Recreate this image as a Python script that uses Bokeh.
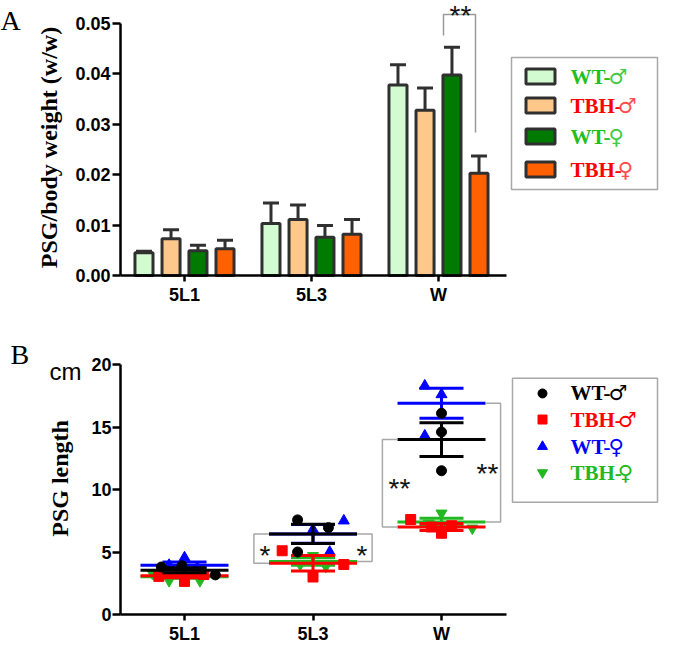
import math
from bokeh.plotting import figure
from bokeh.layouts import column
from bokeh.models import Range1d, FixedTicker, ColumnDataSource, NumeralTickFormatter
from bokeh.core.properties import value
from bokeh.embed import file_html
from bokeh.resources import INLINE

SERIF = "Liberation Serif"
SANS = "Liberation Sans"
SYM = "DejaVu Sans"

# ------------------------------------------------------------------ data
categories = ["5L1", "5L3", "W"]
series_prefix = ["WT-", "TBH-", "WT-", "TBH-"]
series_sex = ["\u2642", "\u2642", "\u2640", "\u2640"]

# Panel A: PSG / body weight (mean and SEM) per stage
ratio_wt_m = [0.0045, 0.0103, 0.0378]
ratio_wt_m_sem = [0.0003, 0.0041, 0.0040]
ratio_tbh_m = [0.0073, 0.0111, 0.0328]
ratio_tbh_m_sem = [0.0018, 0.0029, 0.0044]
ratio_wt_f = [0.0049, 0.0076, 0.0398]
ratio_wt_f_sem = [0.0011, 0.0023, 0.0055]
ratio_tbh_f = [0.0053, 0.0082, 0.0203]
ratio_tbh_f_sem = [0.0017, 0.0029, 0.0034]
ratio_ticks = [0.0, 0.01, 0.02, 0.03, 0.04, 0.05]

# Panel B: PSG length (cm), individual animals + mean and SEM per stage
len_wt_m = [[3.80, 3.90, 3.17], [7.57, 6.95, 5.00], [16.1, 14.6, 11.5]]
jit_wt_m = [[-0.18, -0.02, 0.24], [-0.12, 0.12, -0.12], [0.0, 0.0, 0.0]]
mean_wt_m = [3.55, 6.45, 14.0]
sem_wt_m = [0.20, 0.77, 1.35]

len_tbh_m = [[2.65, 3.05, 3.20], [5.10, 4.00, 3.00], [7.60, 6.50, 7.00, 7.10]]
jit_tbh_m = [[0.0, -0.20, 0.15], [-0.24, 0.24, 0.0], [-0.24, 0.0, -0.08, 0.08]]
mean_tbh_m = [3.10, 4.10, 7.00]
sem_tbh_m = [0.15, 0.62, 0.28]

len_wt_f = [[4.55, 3.95, 3.75], [7.50, 6.80, 5.00], [18.3, 17.6, 14.3]]
jit_wt_f = [[0.0, -0.12, 0.10], [0.24, 0.0, 0.13], [-0.13, 0.0, -0.13]]
mean_wt_f = [3.95, 6.45, 16.9]
sem_wt_f = [0.25, 0.75, 1.20]

len_tbh_f = [[3.30, 2.70, 2.70], [4.70, 4.00, 3.85], [8.10, 6.90, 7.30]]
jit_tbh_f = [[-0.25, -0.12, 0.12], [0.0, -0.10, 0.10], [0.0, 0.24, -0.10]]
mean_tbh_f = [3.03, 4.25, 7.40]
sem_tbh_f = [0.12, 0.30, 0.30]
length_ticks = [0, 5, 10, 15, 20]

# significance marks, panel B: (stage index, text)
stars_b = [(1, "*"), (1, "*"), (2, "**"), (2, "**")]
stars_b_y = [5.4, 5.4, 10.7, 11.9]

# ------------------------------------------------------------------ layout helpers
def ax(px):  # reference pixel -> panel A x data
    return (px - 192.0) / 127.0

def ay(py):  # reference pixel -> panel A y data
    return (283.0 - py) / 252.0 * 0.05

def bx(px):
    return (px - 192.0) / 128.5

def bv(py):  # reference pixel -> panel B value
    return (632.0 - py) / 12.95

B_ZERO, B_K = 622.0, 12.5   # drawn position of 0 and px per cm in panel B

def bw(py):  # window pixel -> panel B data (own scale)
    return (B_ZERO - py) / B_K

EDGE = "#303030"
bar_fill = ["#d2fbd2", "#fdc88a", "#007a00", "#ff6000"]
legA_text = ["#1fbf1f", "#ff0000", "#1fbf1f", "#ff0000"]
legA_sym = ["#44c944", "#ff4d4d", "#44c944", "#ff4d4d"]
pt_color = ["#000000", "#ff0000", "#0000ff", "#22b822"]
pt_marker = ["circle", "square", "triangle", "inverted_triangle"]
pt_size = [10, 10, 11, 11]
# approximate advance widths (em) of Times/Liberation Serif Bold
CW = {"W": 1.0, "T": 0.667, "B": 0.667, "H": 0.778, "-": 0.333}

def style_axes(p, xloc, xb, yb, yticks, tick_standoff):
    p.xgrid.visible = False
    p.ygrid.visible = False
    p.outline_line_color = None
    p.background_fill_color = "white"
    p.xaxis.ticker = FixedTicker(ticks=[0, 1, 2])
    p.xaxis.major_label_overrides = {i: c for i, c in enumerate(categories)}
    p.yaxis.ticker = FixedTicker(ticks=yticks)
    p.xaxis.fixed_location = 0
    p.yaxis.fixed_location = xloc
    p.xaxis.bounds = xb
    p.yaxis.bounds = yb
    for a in (p.xaxis[0], p.yaxis[0]):
        a.axis_line_width = 2.5
        a.axis_line_color = "black"
        a.major_tick_line_width = 2.5
        a.major_tick_line_color = "black"
        a.major_tick_in = 0
        a.minor_tick_line_color = None
        a.major_label_text_font = SANS
        a.major_label_text_font_style = "bold"
        a.major_label_text_font_size = "18px"
        a.major_label_text_color = "black"
    p.xaxis.major_tick_out = 6
    p.xaxis.major_label_standoff = 3
    p.yaxis.major_tick_out = 8
    p.yaxis.major_label_standoff = tick_standoff

def add_text(p, x, y, txt, font, size, color="black", bold=False, align="left",
             baseline="alphabetic", angle=0.0, y_offset=0):
    p.text(x=x, y=y, text=txt, text_font=value(font), text_font_size=size,
           text_font_style="bold" if bold else "normal", text_color=color,
           text_align=align, text_baseline=baseline, angle=angle, y_offset=y_offset)

# ------------------------------------------------------------------ panel A
pA = figure(width=659, height=322, x_range=Range1d(ax(8), ax(667)),
            y_range=Range1d(ay(330), ay(8)), output_backend="svg", toolbar_location=None,
            min_border_left=0, min_border_right=0, min_border_top=0, min_border_bottom=0)
style_axes(pA, ax(128), (ax(128), ax(514)), (0, 0.05), ratio_ticks, 2)
pA.yaxis.formatter = NumeralTickFormatter(format="0.00")

bar_offsets = [-0.319, -0.106, 0.106, 0.319]
ratio_means = [ratio_wt_m, ratio_tbh_m, ratio_wt_f, ratio_tbh_f]
ratio_sems = [ratio_wt_m_sem, ratio_tbh_m_sem, ratio_wt_f_sem, ratio_tbh_f_sem]
cap = 8.0 / 127.0
for i in range(4):
    xs = [g + bar_offsets[i] for g in range(len(categories))]
    tops = ratio_means[i]
    ups = [t + e for t, e in zip(tops, ratio_sems[i])]
    pA.segment(x0=xs, y0=tops, x1=xs, y1=ups, line_color=EDGE, line_width=3)
    pA.segment(x0=[x - cap for x in xs], y0=ups, x1=[x + cap for x in xs], y1=ups,
               line_color=EDGE, line_width=3)
    pA.vbar(x=xs, top=tops, bottom=0, width=0.142, fill_color=bar_fill[i],
            line_color=EDGE, line_width=3)

# significance bracket (W: WT-female vs TBH-female)
pA.line(x=[ax(451), ax(451), ax(483), ax(483)], y=[ay(43), ay(22), ay(22), ay(140)],
        line_color="#9a9a9a", line_width=1.5)
add_text(pA, [ax(468)], [ay(15)], ["**"], SANS, "28px", "#111111", align="center",
         baseline="middle", y_offset=8)
add_text(pA, [ax(8)], [ay(28)], ["A"], SERIF, "28px")
add_text(pA, [ax(56)], [ay(155)], ["PSG/body weight (w/w)"], SERIF, "24px", bold=True,
         align="center", baseline="middle", angle=math.pi / 2)

# legend A
legA_rows = [84, 113, 144, 177]
pA.rect(x=[ax(592)], y=[ay(131)], width=146, height=132, width_units="screen",
        height_units="screen", fill_color=None, line_color="#a8a8a8", line_width=1.5)
pA.rect(x=[ax(548)] * 4, y=[ay(r) for r in legA_rows], width=29, height=15,
        width_units="screen", height_units="screen", fill_color=bar_fill,
        line_color=EDGE, line_width=3)
FS_A = 21
srcA = ColumnDataSource(dict(x=[ax(578)] * 4, y=[ay(r) for r in legA_rows],
                             t=series_prefix, c=legA_text))
pA.text(x="x", y="y", text="t", text_color="c", source=srcA, text_font=value(SERIF),
        text_font_style="bold", text_font_size=f"{FS_A}px", text_align="left",
        text_baseline="middle")
symA = ColumnDataSource(dict(
    x=[ax(578 + sum(CW[ch] for ch in s) * FS_A - 4) for s in series_prefix],
    y=[ay(r) for r in legA_rows], t=series_sex, c=legA_sym))
pA.text(x="x", y="y", text="t", text_color="c", source=symA, text_font=value(SYM),
        text_font_size="21px", text_align="left", text_baseline="middle")

# ------------------------------------------------------------------ panel B
pB = figure(width=659, height=323, x_range=Range1d(bx(8), bx(667)),
            y_range=Range1d(bw(653), bw(330)), output_backend="svg",
            toolbar_location=None, min_border_left=0, min_border_right=0,
            min_border_top=0, min_border_bottom=0)
style_axes(pB, bx(128), (bx(128), bx(514)), (0, 20), length_ticks, 1)

MEAN_HW = 44.0 / 128.5
SEM_HW = 22.0 / 128.5
b_series = [
    (len_tbh_f, jit_tbh_f, mean_tbh_f, sem_tbh_f, 3),
    (len_wt_f, jit_wt_f, mean_wt_f, sem_wt_f, 2),
    (len_tbh_m, jit_tbh_m, mean_tbh_m, sem_tbh_m, 1),
    (len_wt_m, jit_wt_m, mean_wt_m, sem_wt_m, 0),
]
for vals, jits, means, sems, k in b_series:
    col = pt_color[k]
    g = list(range(len(categories)))
    pB.segment(x0=[i - MEAN_HW for i in g], x1=[i + MEAN_HW for i in g], y0=means, y1=means,
               line_color=col, line_width=3)
    lo = [m - s for m, s in zip(means, sems)]
    hi = [m + s for m, s in zip(means, sems)]
    pB.segment(x0=g, x1=g, y0=lo, y1=hi, line_color=col, line_width=3)
    for yy in (lo, hi):
        pB.segment(x0=[i - SEM_HW for i in g], x1=[i + SEM_HW for i in g], y0=yy, y1=yy,
                   line_color=col, line_width=3)
    px, py = [], []
    for i in g:
        for v, j in zip(vals[i], jits[i]):
            px.append(i + j)
            py.append(v)
    pB.scatter(x=px, y=py, marker=pt_marker[k], size=pt_size[k], fill_color=col,
               line_color=col)

# brackets WT vs TBH at 5L3 and W
BR = 0.46
xs_br, ys_br = [], []
for i in (1, 2):
    xs_br.append([i - MEAN_HW, i - BR, i - BR, i - MEAN_HW])
    ys_br.append([mean_wt_m[i], mean_wt_m[i], mean_tbh_m[i], mean_tbh_m[i]])
    xs_br.append([i + MEAN_HW, i + BR, i + BR, i + MEAN_HW])
    ys_br.append([mean_wt_f[i], mean_wt_f[i], mean_tbh_f[i], mean_tbh_f[i]])
pB.multi_line(xs=xs_br, ys=ys_br, line_color="#a8a8a8", line_width=1.5)
star_dx = [-0.374, 0.381, -0.327, 0.358]
pB.text(x=[s[0] + d for s, d in zip(stars_b, star_dx)], y=stars_b_y,
        text=[s[1] for s in stars_b], text_font=value(SANS), text_font_size="28px",
        text_align="center", text_baseline="middle", y_offset=8, text_color="#111111")

add_text(pB, [bx(18)], [bv(363)], ["B"], SERIF, "28px")
add_text(pB, [bx(57)], [bv(380)], ["cm"], SANS, "24px")
add_text(pB, [bx(67)], [bv(491)], ["PSG length"], SERIF, "24px", bold=True,
         align="center", baseline="middle", angle=math.pi / 2)

# legend B
legB_rows = [403, 430, 458, 485]
pB.rect(x=[bx(592.5)], y=[bv(451.5)], width=145, height=124, width_units="screen",
        height_units="screen", fill_color=None, line_color="#a8a8a8", line_width=1.5)
for k in range(4):
    pB.scatter(x=[bx(550)], y=[bv(legB_rows[k])], marker=pt_marker[k], size=pt_size[k] - 1,
               fill_color=pt_color[k], line_color=pt_color[k])
FS_B = 21
srcB = ColumnDataSource(dict(x=[bx(578)] * 4, y=[bv(r) for r in legB_rows],
                             t=series_prefix, c=pt_color))
pB.text(x="x", y="y", text="t", text_color="c", source=srcB, text_font=value(SERIF),
        text_font_style="bold", text_font_size=f"{FS_B}px", text_align="left",
        text_baseline="middle")
symB = ColumnDataSource(dict(
    x=[bx(578 + sum(CW[ch] for ch in s) * FS_B - 4) for s in series_prefix],
    y=[bv(r) for r in legB_rows], t=series_sex, c=pt_color))
pB.text(x="x", y="y", text="t", text_color="c", source=symB, text_font=value(SYM),
        text_font_size="21px", text_align="left", text_baseline="middle")

layout = column(pA, pB, spacing=0)
open("out.html", "w").write(file_html(layout, INLINE))
